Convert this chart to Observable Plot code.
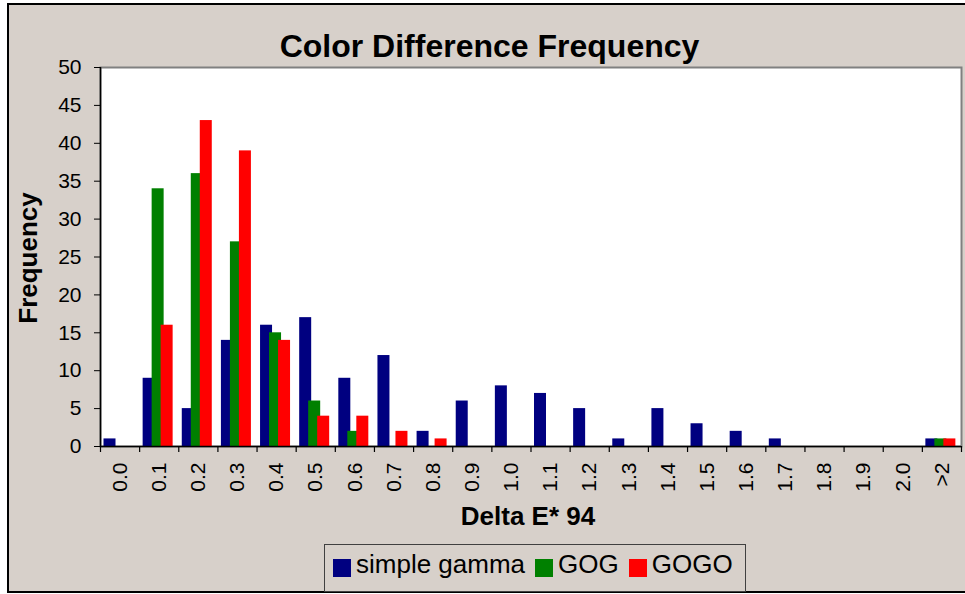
<!DOCTYPE html>
<html>
<head>
<meta charset="utf-8">
<script src="https://cdn.jsdelivr.net/npm/d3@7"></script>
<script src="https://cdn.jsdelivr.net/npm/@observablehq/plot@0.6"></script>
<style>
  body { margin: 0; background: #ffffff; font-family: "Liberation Sans", Arial, sans-serif; color: #000; }
  #chart { position: relative; width: 965px; height: 594px; overflow: hidden; }
  #bg { position: absolute; left: 7px; top: 3px; width: 980px; height: 590px; box-sizing: border-box;
        border: 2px solid #000; border-right: none; background: #d7d0ca; }
  #plot { position: absolute; left: 0; top: 0; }
  #title { position: absolute; left: 0; top: 30px; width: 979px; text-align: center;
           font-size: 32px; line-height: 32px; font-weight: bold; white-space: nowrap; }
  #xlab { position: absolute; left: 328px; top: 503px; width: 400px; text-align: center;
          font-size: 26px; line-height: 26px; font-weight: bold; white-space: nowrap; }
  #ylab { position: absolute; left: -122px; top: 244.5px; width: 300px; text-align: center;
          font-size: 26px; line-height: 26px; font-weight: bold; white-space: nowrap;
          transform: rotate(-90deg); transform-origin: 150px 13px; }
  #legend { position: absolute; left: 324px; top: 544px; width: 422px; height: 48px; box-sizing: border-box;
            border: 1px solid #404040; background: #d7d0ca; }
  #legend .row { position: absolute; left: 8px; top: 6px; display: flex; align-items: flex-start; }
  #legend .item { display: flex; align-items: flex-start; margin-right: 10px; }
  #legend .sw { width: 18px; height: 18px; margin-top: 8px; margin-right: 5px; }
  #legend .lbl { font-size: 26px; line-height: 26px; white-space: nowrap; }
</style>
</head>
<body>
<div id="chart">
  <div id="bg"></div>
  <div id="title">Color Difference Frequency</div>
  <div id="plot"></div>
  <div id="ylab">Frequency</div>
  <div id="xlab">Delta E* 94</div>
  <div id="legend"><div class="row" id="legendRow"></div></div>
</div>
<script>
const categories = ["0.0","0.1","0.2","0.3","0.4","0.5","0.6","0.7","0.8","0.9","1.0","1.1","1.2","1.3","1.4","1.5","1.6","1.7","1.8","1.9","2.0",">2"];
const seriesNames = ["simple gamma", "GOG", "GOGO"];
const simpleGamma = [1, 9, 5, 14, 16, 17, 9, 12, 2, 6, 8, 7, 5, 1, 5, 3, 2, 1, 0, 0, 0, 1];
const gog         = [0, 34, 36, 27, 15, 6, 2, 0, 0, 0, 0, 0, 0, 0, 0, 0, 0, 0, 0, 0, 0, 1];
const gogo        = [0, 16, 43, 39, 14, 4, 4, 2, 1, 0, 0, 0, 0, 0, 0, 0, 0, 0, 0, 0, 0, 1];
const yTicks = [0, 5, 10, 15, 20, 25, 30, 35, 40, 45, 50];

const seriesColors = ["#000080", "#008000", "#ff0000"];
const seriesValues = [simpleGamma, gog, gogo];
const rows = seriesNames.flatMap((s, i) => categories.map((c, j) => ({series: s, cat: c, value: seriesValues[i][j]})));

const W = 965, H = 594;
const mLeft = 100, mRight = 4, mTop = 67, mBottom = 148;
const step = (W - mLeft - mRight) / categories.length;
// bar slot within each category band (left/right edges, in px from the band start)
const slots = [[3.5, 15.5], [12.5, 24.5], [21.5, 33.5]];

const barMarks = seriesNames.map((s, i) =>
  Plot.barY(rows.filter(d => d.series === s && d.value > 0), {
    x: "cat", y: "value", fill: seriesColors[i],
    insetLeft: slots[i][0], insetRight: step - slots[i][1]
  })
);

const chart = Plot.plot({
  width: W, height: H,
  marginLeft: mLeft, marginRight: mRight, marginTop: mTop, marginBottom: mBottom,
  style: { background: "transparent", fontFamily: "'Liberation Sans', Arial, sans-serif", color: "#000", overflow: "visible" },
  x: { type: "band", domain: categories, padding: 0, round: false, label: null },
  y: { domain: [0, 50], label: null },
  marks: [
    Plot.frame({ fill: "white", stroke: "#808080", strokeWidth: 2 }),
    ...barMarks,
    Plot.ruleY([0], { stroke: "#000", strokeWidth: 1.5 }),
    Plot.ruleX([categories[0]], { dx: -step / 2, stroke: "#000", strokeWidth: 1.5 }),
    Plot.ruleX(categories, { dx: -step / 2, y1: 0, y2: 0, insetTop: 6, insetBottom: 0, stroke: "#000", strokeWidth: 1.2 }),
    Plot.ruleX([categories[categories.length - 1]], { dx: step / 2, y1: 0, y2: 0, insetTop: 6, insetBottom: 0, stroke: "#000", strokeWidth: 1.2 }),
    Plot.axisY({ ticks: yTicks, tickSize: 6, tickPadding: 13, fontSize: 21, label: null, tickFormat: d => String(d) }),
    Plot.axisX({ tickSize: 0, tickRotate: -90, tickPadding: 16, fontSize: 21, label: null })
  ]
});
document.getElementById("plot").appendChild(chart);

const legendRow = document.getElementById("legendRow");
seriesNames.forEach((s, i) => {
  const item = document.createElement("div");
  item.className = "item";
  const sw = document.createElement("div");
  sw.className = "sw";
  sw.style.background = seriesColors[i];
  const lbl = document.createElement("div");
  lbl.className = "lbl";
  lbl.textContent = s;
  item.appendChild(sw);
  item.appendChild(lbl);
  legendRow.appendChild(item);
});
</script>
</body>
</html>
